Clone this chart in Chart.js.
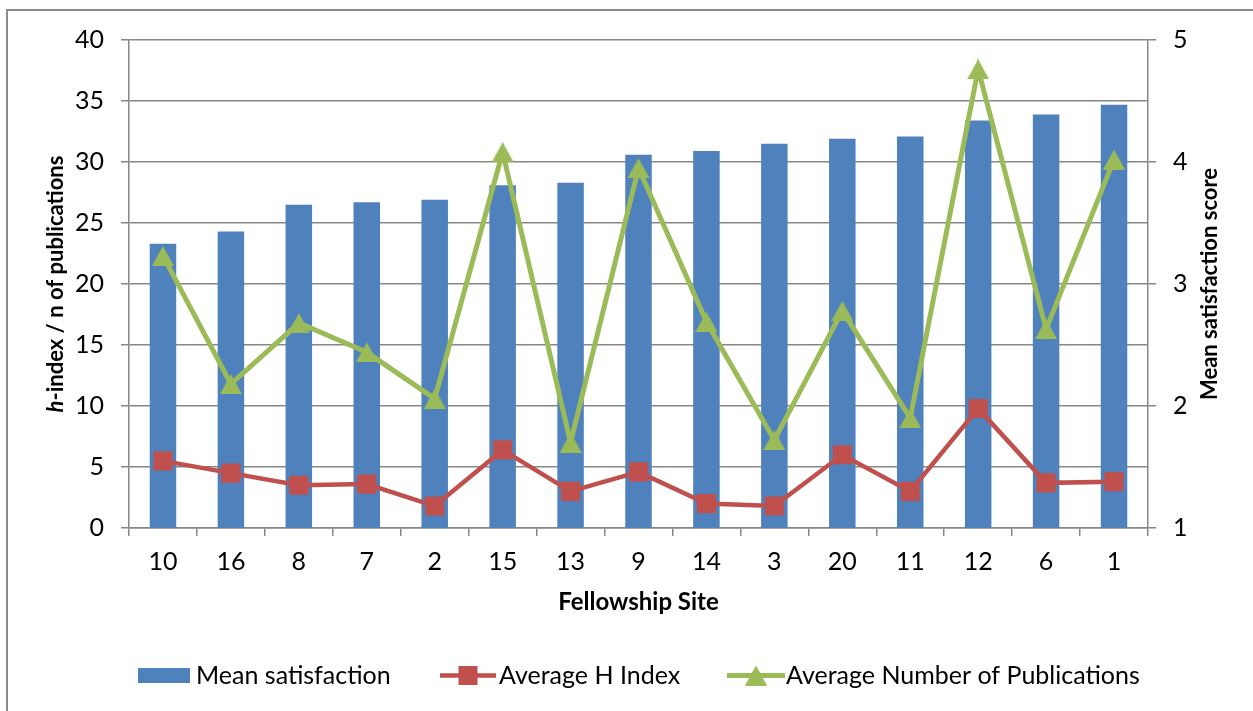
<!DOCTYPE html>
<html>
<head>
<meta charset="utf-8">
<script src="https://cdn.jsdelivr.net/npm/chart.js@4/dist/chart.umd.min.js"></script>
<style>
  html, body { margin: 0; padding: 0; background: #fff; overflow: hidden; }
  #wrap { position: relative; width: 1253px; height: 711px; }
</style>
</head>
<body>
<div id="wrap"><canvas id="chart" width="1253" height="711"></canvas></div>
<script>
// Fellowship sites, ordered by mean satisfaction
const sites = ['10', '16', '8', '7', '2', '15', '13', '9', '14', '3', '20', '11', '12', '6', '1'];
// Mean satisfaction score (right axis, 1-5)
const meanSatisfaction = [3.33, 3.43, 3.65, 3.67, 3.69, 3.81, 3.83, 4.06, 4.09, 4.15, 4.19, 4.21, 4.34, 4.39, 4.47];
// Average h-index (left axis)
const avgHIndex = [5.5, 4.5, 3.5, 3.6, 1.8, 6.4, 3.0, 4.6, 2.0, 1.8, 6.0, 3.0, 9.8, 3.7, 3.8];
// Average number of publications (left axis)
const avgPublications = [22.3, 11.8, 16.8, 14.4, 10.6, 30.8, 7.0, 29.5, 16.9, 7.2, 17.8, 9.0, 37.6, 16.3, 30.2];
// Axis ranges: [min, max, step]
const leftAxis = [0, 40, 5];
const rightAxis = [1, 5, 1];

const BLUE = '#4F81BD';
const RED = '#C0504D';
const GREEN = '#9BBB59';
const GRID = '#878787';
const FONT = 'Lato, "Open Sans", sans-serif';
const TICK_SIZE = 25;
const TITLE_SIZE = 24;
const SIDE_TITLE_SIZE = 22;

// Triangle marker centred on its bounding box
function triangleImage(color, w, h) {
  const c = document.createElement('canvas');
  c.width = w; c.height = h;
  const g = c.getContext('2d');
  g.fillStyle = color;
  g.beginPath();
  g.moveTo(w / 2, 0);
  g.lineTo(w, h);
  g.lineTo(0, h);
  g.closePath();
  g.fill();
  return c;
}
const triMarker = triangleImage(GREEN, 22, 20);

// Frame, rotated axis titles and the legend row
const decorations = {
  id: 'decorations',
  beforeDraw(chart) {
    const ctx = chart.ctx;
    ctx.save();
    ctx.fillStyle = '#fff';
    ctx.fillRect(0, 0, chart.width, chart.height);
    ctx.strokeStyle = '#8a8a8a';
    ctx.lineWidth = 2;
    ctx.beginPath();
    ctx.moveTo(7, chart.height + 5);
    ctx.lineTo(7, 10);
    ctx.lineTo(chart.width + 5, 10);
    ctx.stroke();
    ctx.restore();
  },
  afterDraw(chart) {
    const ctx = chart.ctx;
    const area = chart.chartArea;
    const midY = (area.top + area.bottom) / 2;

    // left title: italic "h" followed by the rest
    ctx.save();
    ctx.fillStyle = '#000';
    ctx.textBaseline = 'middle';
    const boldFont = 'bold ' + SIDE_TITLE_SIZE + 'px ' + FONT;
    const italicFont = 'italic bold ' + SIDE_TITLE_SIZE + 'px ' + FONT;
    const part1 = 'h', part2 = '-index / n of publications';
    ctx.font = italicFont;
    const w1 = ctx.measureText(part1).width;
    ctx.font = boldFont;
    const w2 = ctx.measureText(part2).width;
    ctx.translate(56, midY);
    ctx.rotate(-Math.PI / 2);
    const x0 = -(w1 + w2) / 2;
    ctx.textAlign = 'left';
    ctx.font = italicFont;
    ctx.fillText(part1, x0, 0);
    ctx.font = boldFont;
    ctx.fillText(part2, x0 + w1, 0);
    ctx.restore();

    // right title
    ctx.save();
    ctx.fillStyle = '#000';
    ctx.textBaseline = 'middle';
    ctx.textAlign = 'center';
    ctx.font = boldFont;
    ctx.translate(1210, midY);
    ctx.rotate(-Math.PI / 2);
    ctx.fillText('Mean satisfaction score', 0, 0);
    ctx.restore();

    // legend
    const ly = 675.5;
    const ds = chart.data.datasets;
    ctx.save();
    ctx.font = TICK_SIZE + 'px ' + FONT;
    ctx.textBaseline = 'middle';
    ctx.textAlign = 'left';
    // bar swatch
    ctx.fillStyle = ds[0].backgroundColor;
    ctx.fillRect(138, ly - 7.5, 52, 15);
    ctx.fillStyle = '#000';
    ctx.fillText(ds[0].label, 196, ly);
    // H index line + square
    ctx.strokeStyle = ds[1].borderColor;
    ctx.lineWidth = 4.5;
    ctx.beginPath(); ctx.moveTo(440, ly); ctx.lineTo(496, ly); ctx.stroke();
    ctx.fillStyle = ds[1].pointBackgroundColor;
    ctx.fillRect(468 - 9.5, ly - 9.5, 19, 19);
    ctx.fillStyle = '#000';
    ctx.fillText(ds[1].label, 499, ly);
    // publications line + triangle
    ctx.strokeStyle = ds[2].borderColor;
    ctx.lineWidth = 5;
    ctx.beginPath(); ctx.moveTo(727, ly); ctx.lineTo(785, ly); ctx.stroke();
    ctx.drawImage(triMarker, 756 - 11, ly - 10);
    ctx.fillStyle = '#000';
    ctx.fillText(ds[2].label, 786, ly);
    ctx.restore();
  }
};

new Chart(document.getElementById('chart'), {
  data: {
    labels: sites,
    datasets: [
      {
        type: 'bar',
        label: 'Mean satisfaction',
        data: meanSatisfaction,
        yAxisID: 'y1',
        backgroundColor: BLUE,
        borderWidth: 0,
        categoryPercentage: 1,
        barPercentage: 0.39,
        order: 3
      },
      {
        type: 'line',
        label: 'Average H Index',
        data: avgHIndex,
        yAxisID: 'y',
        borderColor: RED,
        borderWidth: 4.5,
        pointStyle: 'rect',
        pointRadius: 13.5,
        pointBackgroundColor: RED,
        pointBorderColor: RED,
        pointBorderWidth: 0,
        tension: 0,
        order: 2
      },
      {
        type: 'line',
        label: 'Average Number of Publications',
        data: avgPublications,
        yAxisID: 'y',
        borderColor: GREEN,
        borderWidth: 5,
        pointStyle: triMarker,
        pointRadius: 11,
        pointBackgroundColor: GREEN,
        tension: 0,
        order: 1
      }
    ]
  },
  options: {
    responsive: false,
    animation: false,
    devicePixelRatio: 1,
    layout: { padding: { top: 40, left: 0, right: 0, bottom: 0 } },
    plugins: {
      legend: { display: false },
      tooltip: { enabled: false }
    },
    scales: {
      x: {
        offset: true,
        grid: { offset: true, drawOnChartArea: false, tickLength: 8, color: GRID, lineWidth: 1.5 },
        border: { color: GRID, width: 1.5 },
        ticks: { color: '#000', font: { family: FONT, size: TICK_SIZE }, padding: 11, maxRotation: 0 },
        title: {
          display: true,
          text: 'Fellowship Site',
          color: '#000',
          font: { family: FONT, size: TITLE_SIZE, weight: 'bold' },
          padding: { top: 0, bottom: 94 }
        },
        afterFit(scale) { scale.height = 183; }
      },
      y: {
        position: 'left',
        min: leftAxis[0],
        max: leftAxis[1],
        ticks: { stepSize: leftAxis[2], color: '#000', font: { family: FONT, size: TICK_SIZE }, padding: 17 },
        grid: { color: GRID, lineWidth: 1.5, tickLength: 8 },
        border: { color: GRID, width: 1.5 },
        afterFit(scale) { scale.width = 129; }
      },
      y1: {
        position: 'right',
        min: rightAxis[0],
        max: rightAxis[1],
        ticks: { stepSize: rightAxis[2], color: '#000', font: { family: FONT, size: TICK_SIZE }, padding: 17 },
        grid: { drawOnChartArea: false, color: GRID, lineWidth: 1.5, tickLength: 8 },
        border: { color: GRID, width: 1.5 },
        afterFit(scale) { scale.width = 105; }
      }
    }
  },
  plugins: [decorations]
});
</script>
</body>
</html>
